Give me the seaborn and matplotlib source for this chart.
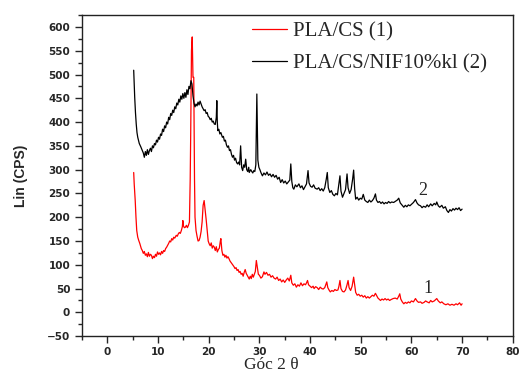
import numpy as np
import pandas as pd
import matplotlib
matplotlib.use("Agg")
import matplotlib.pyplot as plt
from matplotlib.ticker import MultipleLocator
from matplotlib.lines import Line2D
import seaborn as sns

# ---------------------------------------------------------------
# Datos leidos del difractograma (angulo 2 theta, intensidad CPS)
# ---------------------------------------------------------------
goc_nif = [5.2, 5.3, 5.4, 5.55, 5.7, 5.85, 6.0, 6.3, 6.6, 6.9, 7.1, 7.3, 7.5, 7.7, 7.9,
           8.1, 8.3, 8.5, 8.7, 8.9, 9.1, 9.3, 9.5, 9.7, 9.9, 10.1, 10.3, 10.5, 10.7, 10.9,
           11.1, 11.3, 11.5, 11.7, 11.9, 12.1, 12.3, 12.5, 12.7, 12.9, 13.1, 13.3, 13.5, 13.7, 13.9,
           14.1, 14.3, 14.5, 14.7, 14.9, 15.1, 15.3, 15.5, 15.7, 15.9, 16.1, 16.3, 16.5, 16.7, 16.9,
           17.1, 17.3, 17.5, 17.7, 17.9, 18.1, 18.3, 18.5, 18.7, 18.9, 19.1, 19.3, 19.5, 19.7, 19.9,
           20.1, 20.3, 20.5, 20.7, 20.9, 21.1, 21.3, 21.5, 21.6, 21.7, 21.8, 22.0, 22.2, 22.4, 22.7,
           22.9, 23.1, 23.3, 23.5, 23.7, 23.9, 24.1, 24.3, 24.5, 24.7, 24.9, 25.1, 25.3, 25.5, 25.7,
           25.9, 26.1, 26.3, 26.5, 26.7, 26.9, 27.1, 27.3, 27.5, 27.7, 27.9, 28.0, 28.3, 28.5, 28.7,
           28.9, 29.1, 29.3, 29.5, 29.7, 29.9, 30.1, 30.3, 30.6, 30.9, 31.2, 31.5, 31.8, 32.1, 32.4,
           32.7, 33.0, 33.3, 33.6, 33.9, 34.2, 34.5, 34.8, 35.1, 35.4, 35.7, 36.0, 36.2, 36.4, 36.6,
           36.8, 37.1, 37.4, 37.8, 38.1, 38.4, 38.7, 39.0, 39.3, 39.6, 39.8, 40.1, 40.4, 40.7, 41.0,
           41.4, 41.7, 42.0, 42.3, 42.6, 42.9, 43.2, 43.4, 43.6, 43.9, 44.2, 44.5, 44.8, 45.1, 45.4,
           45.7, 45.9, 46.1, 46.4, 46.7, 47.0, 47.3, 47.5, 47.8, 48.1, 48.4, 48.6, 48.8, 49.0, 49.3,
           49.6, 49.9, 50.2, 50.5, 50.8, 51.1, 51.4, 51.7, 52.0, 52.3, 52.6, 52.9, 53.1, 53.4, 53.7,
           54.0, 54.3, 54.6, 54.9, 55.2, 55.5, 55.8, 56.1, 56.5, 56.9, 57.2, 57.5, 57.8, 58.1, 58.5,
           58.8, 59.1, 59.4, 59.7, 60.0, 60.4, 60.8, 61.1, 61.4, 61.8, 62.1, 62.4, 62.8, 63.1, 63.4,
           63.8, 64.1, 64.5, 64.8, 65.0, 65.3, 65.6, 66.0, 66.3, 66.7, 67.0, 67.3, 67.6, 67.9, 68.2,
           68.5, 68.8, 69.1, 69.4, 69.7, 70.0]
lin_nif = [509, 480, 452, 420, 396, 378, 368, 355, 348, 340, 335, 326, 338, 330, 342,
           332, 340, 345, 338, 350, 346, 355, 352, 362, 358, 368, 364, 375, 372, 385,
           380, 392, 388, 400, 396, 410, 405, 418, 414, 425, 420, 432, 428, 440, 436,
           448, 442, 455, 448, 460, 450, 462, 452, 468, 458, 475, 470, 487, 480, 455,
           440, 432, 438, 434, 442, 436, 444, 438, 432, 428, 424, 426, 418, 420, 412,
           410, 405, 408, 400, 402, 396, 395, 410, 445, 400, 382, 385, 375, 378, 368,
           370, 360, 362, 352, 347, 350, 340, 342, 332, 326, 330, 320, 324, 315, 312,
           316, 310, 350, 305, 298, 310, 305, 322, 300, 296, 305, 294, 300, 296, 293,
           298, 296, 310, 459, 320, 305, 300, 294, 287, 293, 289, 295, 288, 291, 285,
           290, 284, 288, 280, 284, 273, 279, 272, 276, 270, 274, 278, 312, 275, 262,
           259, 268, 264, 270, 262, 266, 258, 264, 270, 298, 272, 265, 263, 268, 261,
           259, 262, 256, 260, 255, 262, 280, 294, 262, 252, 256, 248, 245, 250, 247,
           270, 287, 255, 242, 250, 258, 291, 262, 250, 258, 280, 299, 260, 238, 242,
           236, 240, 238, 248, 236, 233, 231, 236, 232, 235, 240, 249, 236, 231, 233,
           229, 232, 228, 231, 229, 233, 230, 232, 231, 234, 236, 240, 230, 226, 221,
           225, 222, 226, 224, 227, 231, 237, 230, 226, 224, 220, 223, 221, 226, 222,
           228, 224, 229, 226, 232, 224, 221, 225, 219, 222, 214, 210, 216, 213, 218,
           215, 219, 216, 220, 214, 217]

goc_cs = [5.2, 5.3, 5.5, 5.65, 5.8, 6.0, 6.2, 6.4, 6.7, 6.9, 7.1, 7.3, 7.5, 7.7, 7.9,
          8.1, 8.3, 8.5, 8.7, 8.9, 9.1, 9.3, 9.5, 9.7, 9.9, 10.1, 10.3, 10.5, 10.7, 10.9,
          11.1, 11.3, 11.5, 11.7, 11.9, 12.1, 12.3, 12.5, 12.7, 12.9, 13.1, 13.3, 13.6, 13.8, 14.0,
          14.2, 14.4, 14.6, 14.8, 14.9, 15.0, 15.2, 15.4, 15.6, 15.8, 16.0, 16.2, 16.35, 16.45, 16.6,
          16.75, 16.9, 17.05, 17.2, 17.3, 17.5, 17.7, 17.9, 18.1, 18.3, 18.5, 18.7, 18.9, 19.1, 19.3,
          19.5, 19.7, 19.9, 20.1, 20.3, 20.5, 20.7, 20.9, 21.1, 21.3, 21.5, 21.7, 21.9, 22.1, 22.3,
          22.4, 22.6, 22.8, 23.0, 23.2, 23.4, 23.6, 23.8, 24.0, 24.2, 24.4, 24.6, 24.8, 25.0, 25.2,
          25.4, 25.6, 25.8, 26.0, 26.2, 26.4, 26.6, 26.8, 27.0, 27.2, 27.4, 27.6, 27.8, 28.0, 28.2,
          28.4, 28.6, 28.8, 29.0, 29.2, 29.4, 29.6, 29.8, 30.0, 30.3, 30.6, 30.9, 31.1, 31.4, 31.7,
          32.0, 32.3, 32.6, 32.9, 33.2, 33.5, 33.8, 34.1, 34.4, 34.7, 35.0, 35.3, 35.6, 35.9, 36.1,
          36.2, 36.4, 36.7, 37.0, 37.3, 37.6, 37.9, 38.2, 38.5, 38.8, 39.1, 39.3, 39.5, 39.7, 40.0,
          40.3, 40.6, 40.8, 41.1, 41.4, 41.7, 42.0, 42.3, 42.6, 42.9, 43.1, 43.3, 43.5, 43.8, 44.0,
          44.3, 44.6, 44.9, 45.2, 45.5, 45.7, 45.9, 46.1, 46.4, 46.7, 47.0, 47.3, 47.5, 47.7, 48.0,
          48.3, 48.6, 48.8, 49.0, 49.3, 49.6, 49.9, 50.2, 50.5, 50.8, 51.1, 51.4, 51.7, 52.0, 52.3,
          52.6, 52.9, 53.1, 53.4, 53.7, 53.9, 54.2, 54.5, 54.8, 55.1, 55.4, 55.7, 56.0, 56.4, 56.8,
          57.2, 57.5, 57.7, 57.9, 58.2, 58.5, 58.8, 59.1, 59.4, 59.7, 60.0, 60.4, 60.8, 61.1, 61.4,
          61.8, 62.1, 62.5, 62.8, 63.1, 63.5, 63.8, 64.1, 64.5, 64.8, 65.0, 65.3, 65.7, 66.0, 66.4,
          66.8, 67.2, 67.6, 68.0, 68.4, 68.8, 69.1, 69.5, 69.8, 70.0]
lin_cs = [294, 270, 235, 200, 172, 158, 151, 145, 134, 130, 124, 128, 120, 123, 117,
          126, 118, 122, 120, 113, 118, 115, 122, 118, 127, 122, 125, 121, 128, 124,
          130, 128, 134, 137, 141, 145, 150, 148, 155, 152, 158, 156, 162, 160, 165,
          168, 166, 172, 180, 193, 182, 178, 179, 183, 178, 183, 190, 280, 375, 550,
          579, 494, 494, 280, 200, 172, 160, 150, 151, 158, 170, 190, 225, 235, 215,
          195, 172, 150, 144, 140, 146, 135, 140, 137, 130, 138, 127, 132, 135, 150,
          155, 130, 120, 122, 116, 120, 114, 117, 113, 108, 105, 102, 99, 96, 92,
          94, 88, 90, 84, 86, 80, 82, 76, 84, 90, 82, 78, 74, 70, 76,
          71, 80, 74, 80, 86, 109, 95, 80, 78, 72, 75, 85, 80, 84, 78,
          80, 74, 77, 72, 70, 74, 67, 70, 64, 68, 63, 68, 72, 66, 74,
          78, 62, 57, 60, 53, 58, 55, 62, 56, 60, 58, 62, 67, 58, 55,
          52, 55, 50, 54, 52, 48, 53, 50, 49, 52, 58, 64, 52, 46, 43,
          46, 44, 48, 46, 47, 55, 67, 50, 44, 43, 47, 58, 67, 52, 46,
          55, 74, 58, 42, 36, 38, 34, 36, 32, 35, 30, 33, 30, 33, 36,
          34, 40, 36, 30, 27, 25, 28, 26, 29, 26, 28, 25, 27, 29, 30,
          28, 34, 39, 28, 22, 18, 21, 19, 22, 20, 24, 22, 29, 24, 21,
          22, 19, 21, 24, 22, 20, 25, 22, 24, 27, 29, 24, 20, 22, 18,
          16, 18, 15, 17, 15, 18, 16, 20, 15, 18]

ten_cs = "PLA/CS (1)"
ten_nif = "PLA/CS/NIF10%kl (2)"

df_cs = pd.DataFrame({"goc": goc_cs, "lin": lin_cs})
df_nif = pd.DataFrame({"goc": goc_nif, "lin": lin_nif})

# ---------------------------------------------------------------
# Grafico
# ---------------------------------------------------------------
sns.set_style("ticks")
plt.rcParams["font.family"] = ["DejaVu Sans"]

fig = plt.figure(figsize=(5.19, 3.76), dpi=100)
ax = fig.add_axes([0.158, 0.106, 0.830, 0.854])

sns.lineplot(data=df_cs, x="goc", y="lin", ax=ax, color="#ff0000", lw=0.9,
             sort=False, estimator=None)
sns.lineplot(data=df_nif, x="goc", y="lin", ax=ax, color="black", lw=0.9,
             sort=False, estimator=None)

ax.set_xlim(-5, 80)
ax.set_ylim(-50, 625)
ax.xaxis.set_major_locator(MultipleLocator(10))
ax.xaxis.set_minor_locator(MultipleLocator(5))
ax.yaxis.set_major_locator(MultipleLocator(50))
ax.yaxis.set_minor_locator(MultipleLocator(25))
ax.tick_params(which="major", direction="out", length=5, width=1, labelsize=7.5)
ax.tick_params(which="minor", direction="out", length=3, width=1)
ax.tick_params(axis="x", which="major", pad=2.5)
for lab in ax.get_xticklabels() + ax.get_yticklabels():
    lab.set_fontweight("bold")

for s in ax.spines.values():
    s.set_linewidth(1)
    s.set_color("#222222")

ax.set_xlabel("Góc 2 θ", family="Liberation Serif", fontsize=12.5)
ax.xaxis.set_label_coords(0.44, -0.064, transform=ax.transAxes)
ax.xaxis.label.set_va("top")
ax.set_ylabel("Lin (CPS)", family="Liberation Sans", fontweight="bold",
              fontsize=10, labelpad=14)

ax.text(62.3, 256, "2", family="Liberation Serif", fontsize=13, ha="center", va="center")
ax.text(63.3, 50, "1", family="Liberation Serif", fontsize=13, ha="center", va="center")

handles = [Line2D([], [], color="#ff0000", lw=0.9),
           Line2D([], [], color="black", lw=0.9)]
ax.legend(handles, [ten_cs, ten_nif], loc="upper left", bbox_to_anchor=(0.395, 0.98),
          frameon=False, prop={"family": "Liberation Serif", "size": 15},
          handlelength=1.68, handletextpad=0.29, labelspacing=0.6,
          borderpad=0, borderaxespad=0)

fig.savefig("out.png", dpi=100)
